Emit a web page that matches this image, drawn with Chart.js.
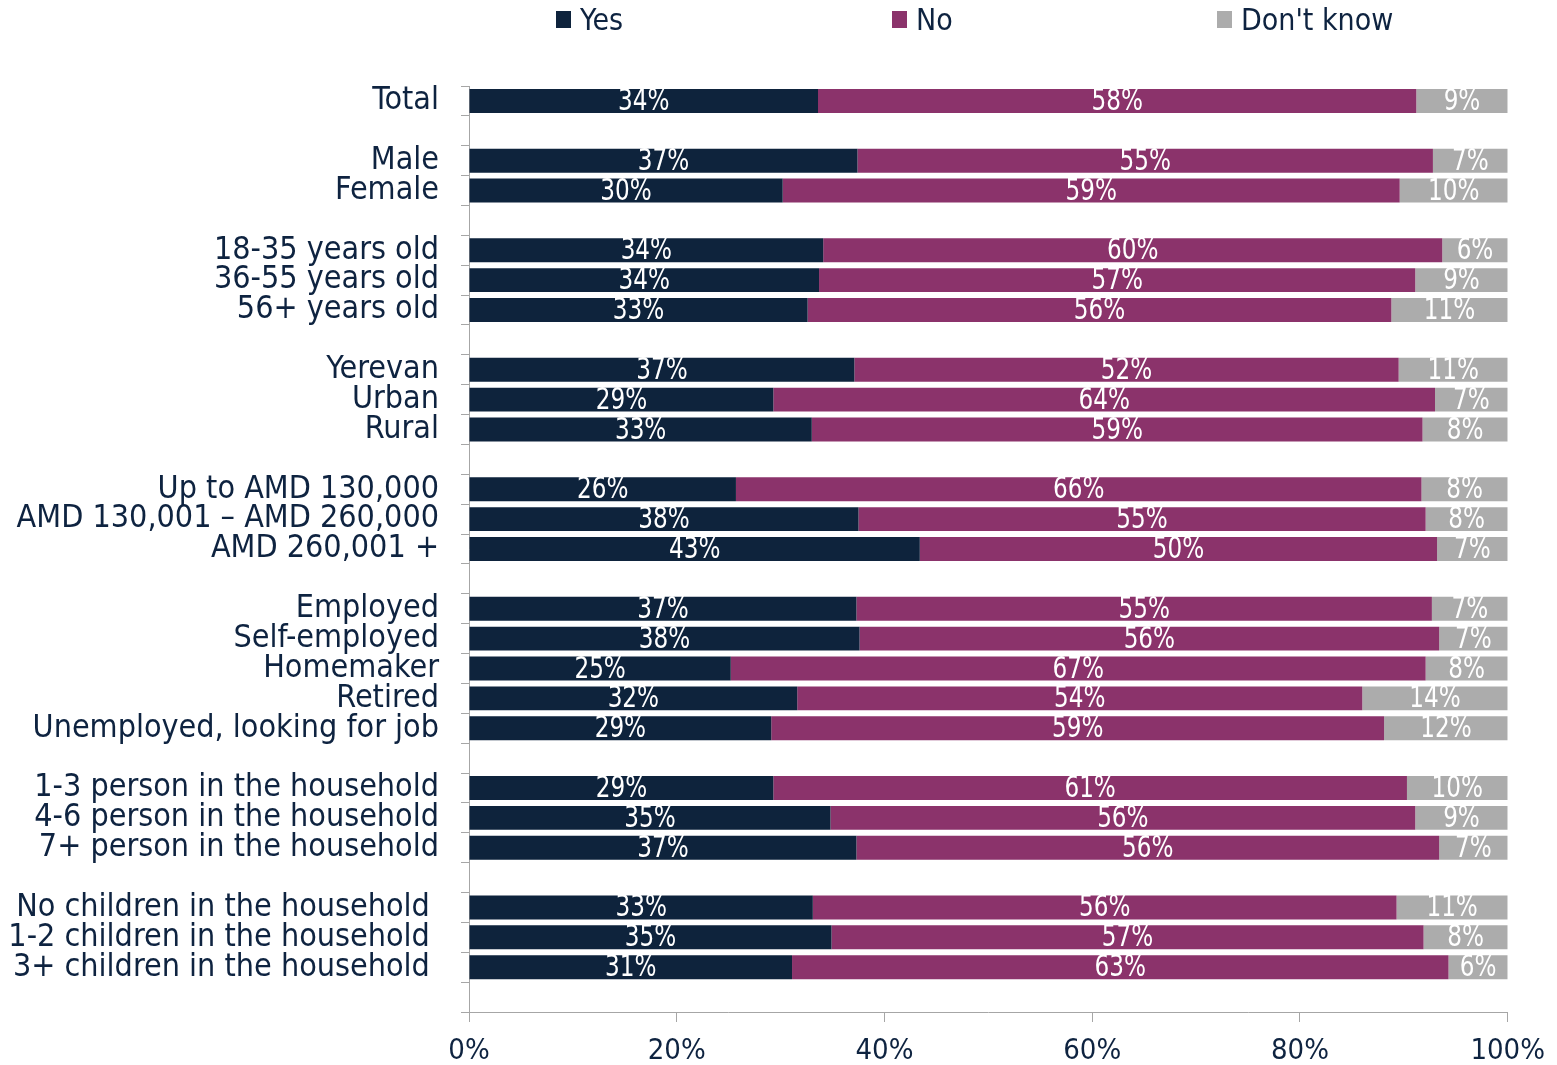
<!DOCTYPE html>
<html>
<head>
<meta charset="utf-8">
<script src="https://cdn.jsdelivr.net/npm/chart.js@4.4.1/dist/chart.umd.min.js"></script>
<style>
  html, body { margin: 0; padding: 0; background: #fff; }
  #wrap { position: relative; width: 1557px; height: 1065px; }
  #legend {
    position: absolute; left: 556px; top: 2px;
    display: flex;
    font-family: "DejaVu Sans Condensed", "DejaVu Sans", sans-serif;
    font-size: 30px; color: #0e2340;
  }
  #legend .item { display: flex; align-items: center; }
  #legend .box { width: 15px; height: 17px; margin-right: 9px; }
</style>
</head>
<body>
<div id="wrap">
  <div id="legend"></div>
  <canvas id="chart" width="1557" height="1065"></canvas>
</div>
<script>
// categories ('' = spacer rows between groups)
const categories = [
  "Total", "",
  "Male", "Female", "",
  "18-35 years old", "36-55 years old", "56+ years old", "",
  "Yerevan", "Urban", "Rural", "",
  "Up to AMD 130,000", "AMD 130,001 \u2013 AMD 260,000", "AMD 260,001 +", "",
  "Employed", "Self-employed", "Homemaker", "Retired", "Unemployed, looking for job", "",
  "1-3 person in the household", "4-6 person in the household", "7+ person in the household", "",
  "No children in the household ", "1-2 children in the household ", "3+ children in the household ", ""
];

const yesValues = [
  33.6, null,
  37.4, 30.2, null,
  34.1, 33.7, 32.6, null,
  37.1, 29.3, 33.0, null,
  25.7, 37.5, 43.4, null,
  37.3, 37.6, 25.2, 31.6, 29.1, null,
  29.3, 34.8, 37.3, null,
  33.1, 34.9, 31.1, null
];

const noValues = [
  57.6, null,
  55.4, 59.4, null,
  59.6, 57.4, 56.2, null,
  52.4, 63.7, 58.8, null,
  66.0, 54.6, 49.8, null,
  55.4, 55.8, 66.9, 54.4, 59.0, null,
  61.0, 56.3, 56.1, null,
  56.2, 57.0, 63.2, null
];

const dkValues = [
  8.8, null,
  7.2, 10.4, null,
  6.3, 8.9, 11.2, null,
  10.5, 7.0, 8.2, null,
  8.3, 7.9, 6.8, null,
  7.3, 6.6, 7.9, 14.0, 11.9, null,
  9.7, 8.9, 6.6, null,
  10.7, 8.1, 5.7, null
];

const seriesNames = ["Yes", "No", "Don't know"];
const seriesColors = ["#0e233c", "#8b336b", "#acacac"];
const legendWidths = [336, 325, 200];
const xTicks = [0, 20, 40, 60, 80, 100];

const FONT = "'DejaVu Sans Condensed', 'DejaVu Sans', sans-serif";
const TEXT = "#0e2340";
const AXIS = "#a6a6a6";

// html legend
const legend = document.getElementById("legend");
seriesNames.forEach((name, i) => {
  const item = document.createElement("div");
  item.className = "item";
  item.style.width = legendWidths[i] + "px";
  item.innerHTML = `<span class="box" style="background:${seriesColors[i]}"></span>${name}`;
  legend.appendChild(item);
});

// white value labels inside the bars (narrowed to match the original face)
const barLabels = {
  id: "barLabels",
  afterDatasetsDraw(chart) {
    const ctx = chart.ctx;
    chart.data.datasets.forEach((ds, i) => {
      chart.getDatasetMeta(i).data.forEach((bar, j) => {
        const v = ds.data[j];
        if (v == null) return;
        ctx.save();
        ctx.translate((bar.x + bar.base) / 2, bar.y + 1);
        ctx.scale(0.83, 1);
        ctx.font = "31px " + FONT;
        ctx.fillStyle = "#fff";
        ctx.textAlign = "center";
        ctx.textBaseline = "middle";
        ctx.fillText(Math.round(v) + "%", 0, 0);
        ctx.restore();
      });
    });
  }
};

const ctx = document.getElementById("chart");
new Chart(ctx, {
  type: "bar",
  data: {
    labels: categories,
    datasets: [yesValues, noValues, dkValues].map((vals, i) => ({
      label: seriesNames[i],
      data: vals,
      backgroundColor: seriesColors[i],
      borderWidth: 0,
      barPercentage: 0.8,
      categoryPercentage: 1
    }))
  },
  options: {
    indexAxis: "y",
    responsive: false,
    animation: false,
    layout: { padding: { top: 86, right: 49, bottom: 0, left: 0 } },
    plugins: {
      legend: { display: false },
      tooltip: { enabled: false }
    },
    scales: {
      x: {
        stacked: true,
        min: 0,
        max: 100,
        afterBuildTicks: (scale) => { scale.ticks = xTicks.map(v => ({ value: v })); },
        afterFit: (scale) => { scale.height = 53; },
        ticks: {
          callback: (v) => v + "%",
          font: { family: FONT, size: 29 },
          color: TEXT,
          padding: 12,
          maxRotation: 0
        },
        grid: { drawOnChartArea: false, drawTicks: true, tickLength: 10, color: AXIS },
        border: { color: AXIS }
      },
      y: {
        stacked: true,
        afterFit: (scale) => { scale.width = 469; },
        ticks: {
          font: { family: FONT, size: 32 },
          color: TEXT,
          padding: 22,
          autoSkip: false
        },
        grid: { offset: true, drawOnChartArea: false, drawTicks: true, tickLength: 8, color: AXIS },
        border: { color: AXIS }
      }
    }
  },
  plugins: [barLabels]
});
</script>
</body>
</html>
